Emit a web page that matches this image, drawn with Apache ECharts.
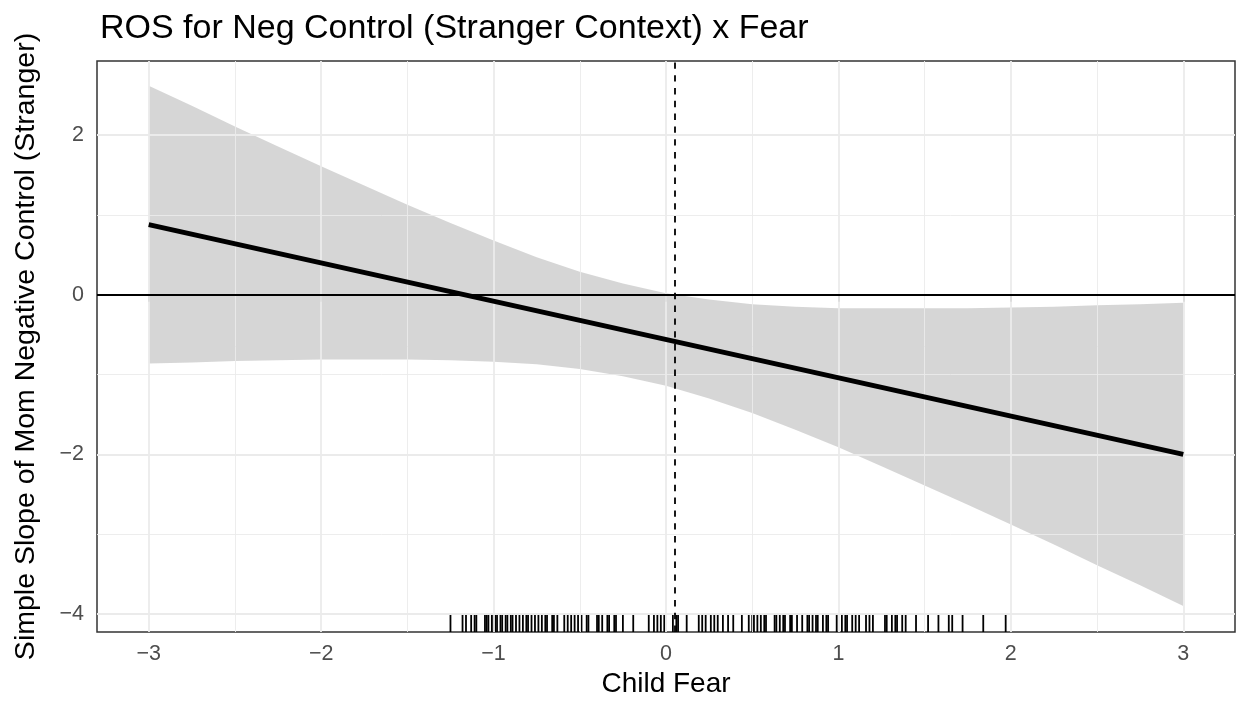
<!DOCTYPE html>
<html>
<head>
<meta charset="utf-8">
<script src="https://cdn.jsdelivr.net/npm/echarts@6/dist/echarts.min.js"></script>
<style>
html,body{margin:0;padding:0;background:#fff;}
#chart{width:1238px;height:705px;}
</style>
</head>
<body>
<div id="chart"></div>
<script>
// ---- data ----
const titleText = 'ROS for Neg Control (Stranger Context) x Fear';
const xTitle = 'Child Fear';
const yTitle = 'Simple Slope of Mom Negative Control (Stranger)';

const xTicks = [-3, -2, -1, 0, 1, 2, 3];
const xMinorTicks = [-2.5, -1.5, -0.5, 0.5, 1.5, 2.5];
const yTicks = [-4, -2, 0, 2];
const yMinorTicks = [-3, -1, 1];

const ribbonX     = [-3, -2.75, -2.5, -2.25, -2, -1.75, -1.5, -1.25, -1, -0.75, -0.5, -0.25, 0,
                     0.25, 0.5, 0.75, 1, 1.25, 1.5, 1.75, 2, 2.25, 2.5, 2.75, 3];
const ribbonUpper = [2.62, 2.37, 2.11, 1.86, 1.61, 1.37, 1.13, 0.90, 0.68, 0.47, 0.29, 0.14, 0.02,
                     -0.06, -0.12, -0.15, -0.17, -0.17, -0.17, -0.17, -0.16, -0.15, -0.13, -0.12, -0.10];
const ribbonLower = [-0.86, -0.85, -0.83, -0.82, -0.81, -0.81, -0.81, -0.82, -0.84, -0.87, -0.93, -1.02, -1.14,
                     -1.30, -1.48, -1.69, -1.91, -2.15, -2.39, -2.63, -2.88, -3.13, -3.39, -3.64, -3.90];

const lineX = [-3, 3];
const lineY = [0.88, -2.00];

const jnPoint = 0.05;

const rugX = [-1.25, -1.18, -1.16, -1.13, -1.11, -1.10, -1.05, -1.04, -1.03, -1.01, -1.00, -0.99, -0.98,
  -0.96, -0.95, -0.93, -0.92, -0.90, -0.89, -0.87, -0.85, -0.83, -0.81, -0.80, -0.78, -0.76, -0.74,
  -0.72, -0.70, -0.69, -0.66, -0.65, -0.63, -0.59, -0.57, -0.55, -0.53, -0.51, -0.49, -0.46, -0.45,
  -0.40, -0.39, -0.37, -0.34, -0.33, -0.30, -0.29, -0.25, -0.19, -0.10, -0.07, -0.05, -0.03, -0.01,
  0.04, 0.06, 0.07, 0.12, 0.19, 0.21, 0.23, 0.26, 0.28, 0.30, 0.33, 0.36, 0.39, 0.44, 0.48, 0.50,
  0.51, 0.53, 0.55, 0.57, 0.58, 0.63, 0.64, 0.66, 0.68, 0.69, 0.72, 0.73, 0.76, 0.79, 0.82, 0.83,
  0.85, 0.87, 0.88, 0.91, 0.93, 0.94, 0.99, 1.02, 1.04, 1.05, 1.08, 1.10, 1.12, 1.16, 1.18, 1.20,
  1.27, 1.28, 1.31, 1.33, 1.34, 1.37, 1.39, 1.45, 1.52, 1.58, 1.64, 1.66, 1.72, 1.84, 1.97];

const xMin = -3.3, xMax = 3.3;
const yMin = -4.226, yMax = 2.93;

// ---- chart ----
const FONT = '"Liberation Sans", Arial, Helvetica, sans-serif';
const chart = echarts.init(document.getElementById('chart'));
const fmt = v => (v < 0 ? '\u2212' + Math.abs(v) : String(v));

const gridLines = [];
xMinorTicks.forEach(v => gridLines.push({xAxis: v, lineStyle: {color: '#EBEBEB', width: 0.9, type: 'solid'}}));
yMinorTicks.forEach(v => gridLines.push({yAxis: v, lineStyle: {color: '#EBEBEB', width: 0.9, type: 'solid'}}));
xTicks.forEach(v => gridLines.push({xAxis: v, lineStyle: {color: '#EBEBEB', width: 1.8, type: 'solid'}}));
yTicks.forEach(v => gridLines.push({yAxis: v, lineStyle: {color: '#EBEBEB', width: 1.8, type: 'solid'}}));

const ribbonData = ribbonX.map((x, i) => [x, ribbonLower[i], ribbonUpper[i]]);

chart.setOption({
  animation: false,
  backgroundColor: '#ffffff',
  textStyle: {fontFamily: FONT},
  title: {
    text: titleText, left: 95, top: 7,
    textStyle: {fontFamily: FONT, fontSize: 34, fontWeight: 'normal', color: '#000'}
  },
  grid: {left: 97, right: 3, top: 61, bottom: 73, show: true, borderColor: '#333333', borderWidth: 1.5, backgroundColor: 'transparent'},
  xAxis: {
    type: 'value', min: xMin, max: xMax,
    name: xTitle, nameLocation: 'middle', nameGap: 38,
    nameTextStyle: {fontFamily: FONT, fontSize: 28, color: '#000'},
    axisLine: {show: false},
    splitLine: {show: false},
    axisTick: {show: true, length: 7, customValues: xTicks, lineStyle: {color: '#333333', width: 1.5}},
    axisLabel: {show: true, margin: 11, customValues: xTicks, formatter: fmt, fontSize: 21.5, color: '#4D4D4D', fontFamily: FONT}
  },
  yAxis: {
    type: 'value', min: yMin, max: yMax,
    name: yTitle, nameLocation: 'middle', nameGap: 56, nameRotate: 90,
    nameTextStyle: {fontFamily: FONT, fontSize: 28.5, color: '#000'},
    axisLine: {show: false},
    splitLine: {show: false},
    axisTick: {show: true, length: 7, customValues: yTicks, lineStyle: {color: '#333333', width: 1.5}},
    axisLabel: {show: true, margin: 13, customValues: yTicks, formatter: fmt, fontSize: 21.5, color: '#4D4D4D', fontFamily: FONT}
  },
  series: [
    {
      type: 'line', data: [], z: 1, silent: true,
      markLine: {silent: true, symbol: ['none', 'none'], label: {show: false}, animation: false, data: gridLines}
    },
    {
      type: 'custom', z: 2, silent: true, clip: true,
      data: ribbonData,
      encode: {x: 0, y: [1, 2]},
      renderItem: function (params, api) {
        if (params.dataIndex !== 0) return null;
        const pts = [];
        for (let i = 0; i < ribbonX.length; i++) pts.push(api.coord([ribbonX[i], ribbonUpper[i]]));
        for (let i = ribbonX.length - 1; i >= 0; i--) pts.push(api.coord([ribbonX[i], ribbonLower[i]]));
        return {type: 'polygon', shape: {points: pts}, style: {fill: 'rgba(153,153,153,0.4)'}};
      }
    },
    {
      type: 'line', data: [], z: 3, silent: true,
      markLine: {silent: true, symbol: ['none', 'none'], label: {show: false}, animation: false,
        data: [
          {yAxis: 0, lineStyle: {color: '#000', width: 1.8, type: 'solid'}},
          {xAxis: jnPoint, lineStyle: {color: '#000', width: 1.8, type: [6.4, 6.4]}}
        ]}
    },
    {
      type: 'custom', z: 4, silent: true,
      data: rugX.map(x => [x, yMin]),
      encode: {x: 0, y: 1},
      renderItem: function (params, api) {
        const p = api.coord([api.value(0), yMin]);
        return {type: 'line', shape: {x1: p[0], y1: p[1], x2: p[0], y2: p[1] - 17}, style: {stroke: '#000', lineWidth: 1.8}};
      }
    },
    {
      type: 'line', z: 5, silent: true, symbol: 'none',
      data: lineX.map((x, i) => [x, lineY[i]]),
      lineStyle: {color: '#000', width: 5}
    }
  ]
});
</script>
</body>
</html>
